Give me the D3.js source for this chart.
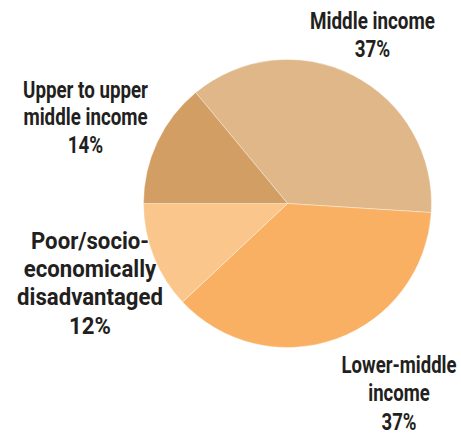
<!DOCTYPE html>
<html>
<head>
<meta charset="utf-8">
<script src="https://cdn.jsdelivr.net/npm/d3@7/dist/d3.min.js"></script>
<style>
  html, body { margin: 0; padding: 0; background: #fff; }
  svg text { font-family: Roboto, "Liberation Sans", sans-serif; font-weight: bold; fill: #231f20; }
</style>
</head>
<body>
<svg id="chart" width="461" height="436"></svg>
<script>
// Income groups, clockwise from the upper-left boundary
const categories = ["Middle income", "Lower-middle income", "Poor/socio-economically disadvantaged", "Upper to upper middle income"];
const shares = [37, 37, 12, 14];
const colors = ["#dfb788", "#f9b062", "#fbc68c", "#d39e63"];
// Label lines as printed beside each slice
const labelLines = [
  ["Middle income", "37%"],
  ["Lower-middle", "income", "37%"],
  ["Poor/socio-", "economically", "disadvantaged", "12%"],
  ["Upper to upper", "middle income", "14%"]
];

const svg = d3.select("#chart");
const cx = 287.5, cy = 203.5, r = 144;
const start = -39.6 * Math.PI / 180;
const fontSize = 24;

const pie = d3.pie().sort(null).value(d => d)
  .startAngle(start).endAngle(start + 2 * Math.PI);
const arc = d3.arc().innerRadius(0).outerRadius(r);
const color = d3.scaleOrdinal().domain(categories).range(colors);

const g = svg.append("g").attr("transform", `translate(${cx},${cy})`);
g.selectAll("path")
  .data(pie(shares))
  .join("path")
  .attr("d", arc)
  .attr("fill", (d, i) => color(categories[i]))
  .attr("stroke", "#fff")
  .attr("stroke-width", 0.6)
  .attr("stroke-opacity", 0.6);

// Label blocks: centre x, first baseline, line step,
// and the width the widest line is condensed to
const labelPos = [
  { x: 372.5, y: 29, lh: 28, w: 125 },
  { x: 399, y: 373, lh: 28.5, w: 115 },
  { x: 90, y: 248.5, lh: 28.5, w: 146 },
  { x: 85.5, y: 98, lh: 27.5, w: 125 }
];

labelLines.forEach((lines, i) => {
  const p = labelPos[i];
  const t = svg.append("text")
    .attr("text-anchor", "middle")
    .attr("font-size", fontSize);
  lines.forEach((s, j) => {
    t.append("tspan").attr("x", 0).attr("y", j * p.lh).text(s);
  });
  const widest = d3.max(t.selectAll("tspan").nodes(), n => n.getComputedTextLength());
  t.attr("transform", `translate(${p.x},${p.y}) scale(${p.w / widest},1)`);
});
</script>
</body>
</html>
